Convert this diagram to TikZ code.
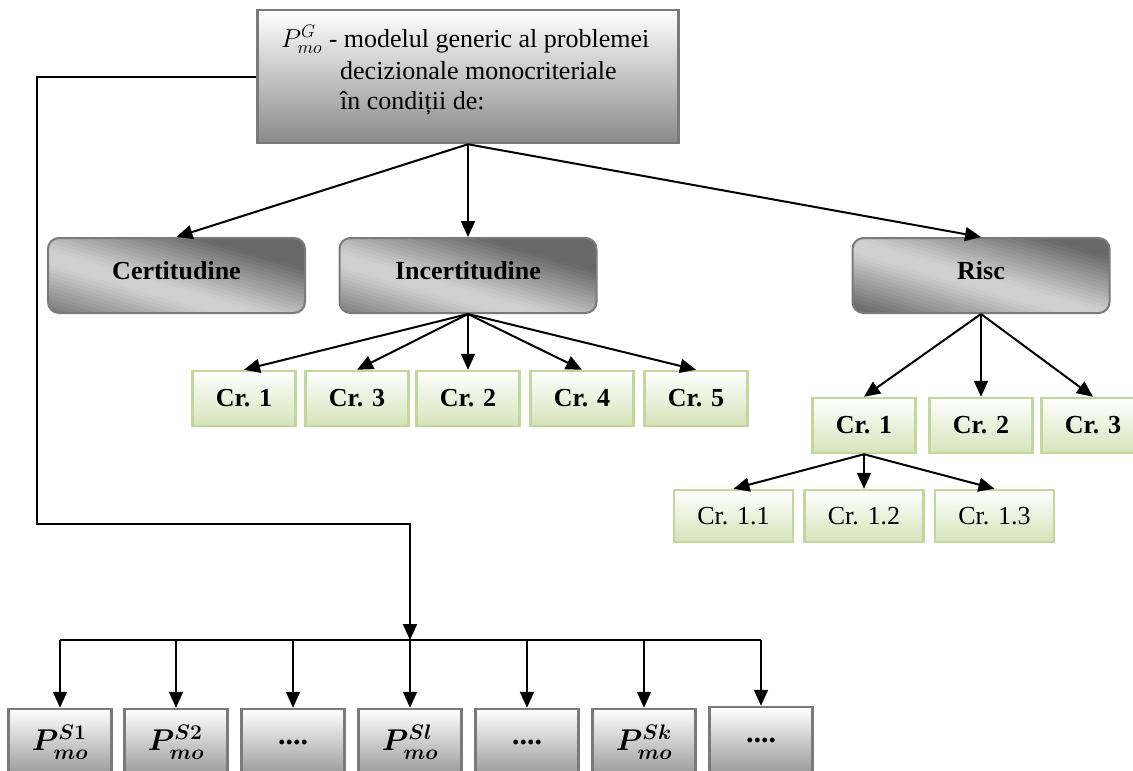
\RequirePackage{fix-cm}
\documentclass[tikz,border=0pt]{standalone}
\usepackage{fontspec}
\setmainfont{Liberation Serif}
\usetikzlibrary{arrows.meta}
\definecolor{dk}{HTML}{686868}
\definecolor{lt}{HTML}{CFCFCF}
\definecolor{bordergray}{HTML}{7A7A7A}
\definecolor{topbot}{HTML}{8A8A8A}
\definecolor{pbot}{HTML}{9A9A9A}
\definecolor{grn}{HTML}{C3D69B}
\definecolor{grnfill}{HTML}{D5E3BA}
\begin{document}
\begin{tikzpicture}[x=1pt,y=-1pt,
  font=\fontsize{26}{31}\selectfont,
  topbox/.style={draw=bordergray, line width=2.5pt, top color=white, bottom color=topbot, inner sep=0pt},
  catbox/.style={rounded corners=11pt, draw=bordergray, line width=2pt, fill=dk,
    path picture={\begin{scope}[shift={(path picture bounding box.center)}, rounded corners=0pt]
      \foreach \k in {0,...,47} {
        \pgfmathsetmacro\sa{-1.2+\k*0.05}
        \pgfmathsetmacro\sb{\sa+0.06}
        \pgfmathsetmacro\sm{abs(\sa+0.025-0.05)}
        \pgfmathsetmacro\sp{max(0,min(100,(\sm-0.10)/0.75*100))}
        \fill[dk!\sp!lt] (257*\sa/2-514, -75*\sa/2-150) -- (257*\sa/2+514, -75*\sa/2+150)
          -- (257*\sb/2+514, -75*\sb/2+150) -- (257*\sb/2-514, -75*\sb/2-150) -- cycle;
      }
    \end{scope}},
    minimum width=257pt, minimum height=75pt, inner sep=0pt, text depth=10pt, font=\fontsize{26}{31}\selectfont\bfseries},
  crbox/.style={draw=grn, line width=2.5pt, top color=white, bottom color=grnfill, minimum width=103pt, minimum height=55pt, inner sep=0pt},
  crb/.style={crbox, font=\fontsize{26}{31}\selectfont\bfseries},
  crs/.style={crbox, minimum width=119pt, minimum height=52pt},
  pbox/.style={draw=bordergray, line width=2.5pt, top color=white, bottom color=pbot, minimum width=103pt, minimum height=66pt, inner sep=0pt, font=\fontsize{30}{36}\selectfont\bfseries\boldmath},
  txt/.style={anchor=base west, inner sep=0pt},
  arr/.style={-{Triangle[length=16pt,width=14pt]}, line width=2pt},
  conn/.style={line width=2pt}
]
\useasboundingbox (0,0) rectangle (1133,771);

% top box
\node[topbox, minimum width=421pt, minimum height=133pt] (top) at (468,76.5) {};
\node[txt] (t1) at (281,47) {$P^{G}_{mo}$ - modelul generic al problemei};
\node[txt] (t2) at (340,79) {decizionale monocriteriale};
\node[txt] (t3) at (340,109) {în condiții de:};

% categories
\node[catbox] (cert) at (176.5,275.5) {Certitudine};
\node[catbox] (incert) at (468,275.5) {Incertitudine};
\node[catbox] (risc) at (981,275.5) {Risc};

% incertitudine criteria
\node[crb] (i1) at (244,398.5) {Cr. 1};
\node[crb] (i3) at (357,398.5) {Cr. 3};
\node[crb] (i2) at (468,398.5) {Cr. 2};
\node[crb] (i4) at (582,398.5) {Cr. 4};
\node[crb] (i5) at (696,398.5) {Cr. 5};

% risc criteria
\node[crb] (r1) at (864,425.5) {Cr. 1};
\node[crb] (r2) at (981,425.5) {Cr. 2};
\node[crb] (r3) at (1093,425.5) {Cr. 3};

\node[crs] (r11) at (733.5,516) {Cr. 1.1};
\node[crs] (r12) at (864,516) {Cr. 1.2};
\node[crs] (r13) at (994.5,516) {Cr. 1.3};

% bottom boxes
\node[pbox] (b1) at (60,742) {$P^{S1}_{mo}$};
\node[pbox] (b2) at (176,742) {$P^{S2}_{mo}$};
\node[pbox] (b3) at (293,742) {....};
\node[pbox] (b4) at (410,742) {$P^{Sl}_{mo}$};
\node[pbox] (b5) at (527,742) {....};
\node[pbox] (b6) at (644,742) {$P^{Sk}_{mo}$};
\node[pbox] (b7) at (761,740) {....};

% connectors
\draw[arr] (top.south) -- (cert.north);
\draw[arr] (top.south) -- (incert.north);
\draw[arr] (top.south) -- (risc.north);

\foreach \n in {i1,i3,i2,i4,i5} \draw[arr] (incert.south) -- (\n.north);
\foreach \n in {r1,r2,r3} \draw[arr] (risc.south) -- (\n.north);
\foreach \n in {r11,r12,r13} \draw[arr] (r1.south) -- (\n.north);

\coordinate (lc1) at (37,76.5);
\coordinate (lc2) at (37,524);
\coordinate (busc) at (410,640);
\draw[arr] (top.west) -- (lc1) -- (lc2) -| (busc);

\coordinate (busL) at (60,640);
\coordinate (busR) at (761,640);
\draw[conn] (busL) -- (busR);
\foreach \n in {b1,b2,b3,b4,b5,b6,b7} \draw[arr] (\n.north |- busL) -- (\n.north);
\end{tikzpicture}
\end{document}
